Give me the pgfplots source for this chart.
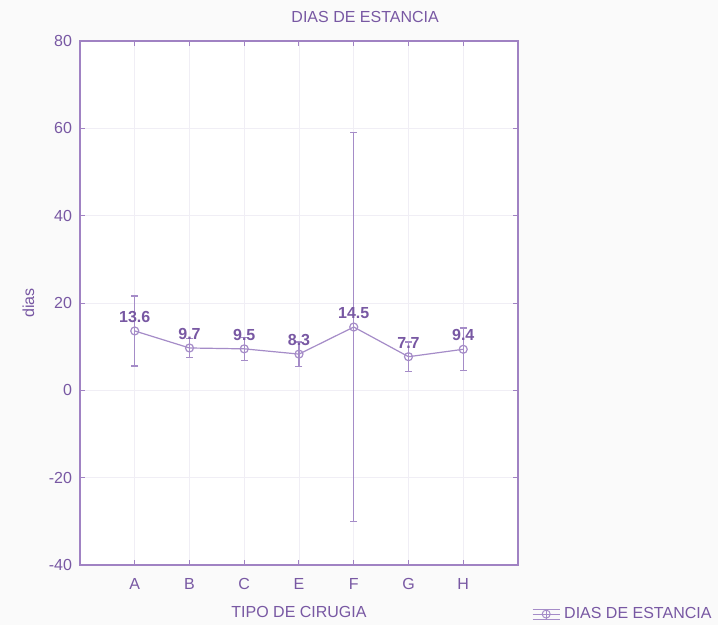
\documentclass[border=0pt]{standalone}
\usepackage{fontspec}
\setmainfont{Liberation Sans}
\usepackage{pgfplots}
\pgfplotsset{compat=1.18}
\definecolor{txt}{RGB}{120,88,163}
\definecolor{ln}{RGB}{165,140,200}
\definecolor{ax}{RGB}{160,130,195}
\definecolor{grd}{RGB}{240,238,245}
\definecolor{bg}{RGB}{250,250,250}
\begin{document}
\begin{tikzpicture}
\fill[bg] (0pt,0pt) rectangle (718pt,625pt);
\path[use as bounding box] (0pt,0pt) rectangle (718pt,625pt);
\begin{axis}[at={(80pt,60pt)}, anchor=south west, scale only axis,
  width=438pt, height=524pt,
  xmin=0, xmax=8, ymin=-40, ymax=80,
  ytick={-40,-20,...,80}, xtick={1,...,7}, xticklabels={A,B,C,E,F,G,H},
  axis background/.style={fill=white},
  axis line style={ax, line width=1.3pt},
  tick style={ax, line width=1pt}, major tick length=5pt,
  grid=major, major grid style={grd, line width=0.8pt},
  font=\fontsize{16}{19}\selectfont,
  tick label style={txt},
  yticklabel style={xshift=-4.5pt},
  xticklabel style={yshift=-10pt},
  /pgf/number format/assume math mode=true,
  ylabel={dias}, ylabel style={at={(axis description cs:-0.118,0.5)}, anchor=center, txt},
  xlabel={TIPO DE CIRUGIA}, xlabel style={at={(axis description cs:0.5,-0.089)}, anchor=center, txt},
  title={DIAS DE ESTANCIA}, title style={at={(axis description cs:0.651,1.035)}, anchor=center, txt},
  legend style={at={(axis description cs:1.032,-0.0937)}, anchor=west, draw=none, fill=none, inner sep=0pt, text=txt},
  legend image code/.code={
    \draw[ln, line width=1pt] (0pt,0pt) -- (27pt,0pt);
    \draw[ln, line width=1pt] (0pt,5pt) -- (27pt,5pt);
    \draw[ln, line width=1pt] (0pt,-5pt) -- (27pt,-5pt);
    \draw[ln, line width=1pt] (13.5pt,-5pt) -- (13.5pt,5pt);
    \draw[ln, line width=1pt] (13.5pt,0pt) circle (4pt);
  },
]
\addplot[ln, line width=1.2pt, mark=o, mark size=4pt, mark options={solid, ln},
  point meta=explicit symbolic,
  nodes near coords,
  every node near coord/.style={txt, font=\bfseries\fontsize{16}{19}\selectfont, anchor=south, yshift=4.5pt},
  error bars/.cd, y dir=both, y explicit,
  error bar style={ln, line width=1.3pt},
  error mark options={rotate=90, mark size=3.5pt, ln, line width=1.3pt}]
table[x=x, y=y, y error=e, meta=lab] {
x y e lab
1 13.6 8.0 13.6
2 9.7 2.15 9.7
3 9.5 2.6 9.5
4 8.3 2.8 8.3
5 14.5 44.5 14.5
6 7.7 3.35 7.7
7 9.4 4.9 9.4
};
\addlegendentry{\hspace{2pt}DIAS DE ESTANCIA}
\end{axis}
\end{tikzpicture}
\end{document}
